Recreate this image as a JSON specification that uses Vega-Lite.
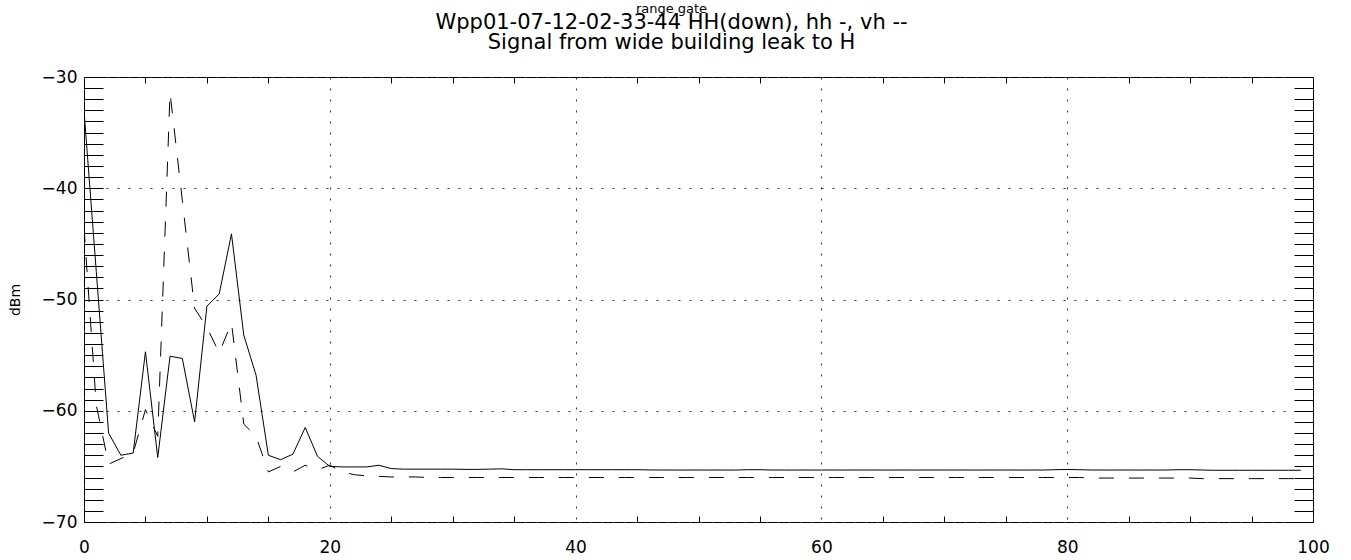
{
  "$schema": "https://vega.github.io/schema/vega-lite/v6.json",
  "width": 1229,
  "height": 445,
  "autosize": {"type": "none"},
  "padding": {"left": 84, "top": 77, "right": 38, "bottom": 38},
  "background": "white",
  "config": {
    "view": {"stroke": "black", "strokeWidth": 1},
    "font": "DejaVu Sans",
    "axis": {
      "labelFont": "DejaVu Sans",
      "labelColor": "black",
      "labelFontSize": 17,
      "titleFont": "DejaVu Sans",
      "titleColor": "black",
      "titleFontWeight": "normal",
      "tickColor": "black",
      "tickWidth": 1,
      "gridColor": "#333333",
      "gridDash": [2, 9],
      "gridWidth": 1,
      "gridOpacity": 1,
      "domain": false
    }
  },
  "title": {
    "text": "range gate",
    "subtitle": ["Wpp01-07-12-02-33-44 HH(down), hh -, vh --", "Signal from wide building leak to H"],
    "fontSize": 13,
    "fontWeight": "normal",
    "font": "DejaVu Sans",
    "color": "black",
    "subtitleFont": "DejaVu Sans",
    "subtitleFontSize": 21,
    "subtitleColor": "black",
    "subtitleLineHeight": 20,
    "subtitlePadding": -4,
    "anchor": "middle",
    "frame": "group",
    "dx": -27,
    "offset": 15
  },
  "data": {
    "values": [
      {"gate": 0, "s": "hh", "dBm": -33.0}, {"gate": 1, "s": "hh", "dBm": -47.5}, {"gate": 2, "s": "hh", "dBm": -62.0}, {"gate": 3, "s": "hh", "dBm": -64.0}, {"gate": 4, "s": "hh", "dBm": -63.8},
      {"gate": 5, "s": "hh", "dBm": -54.7}, {"gate": 6, "s": "hh", "dBm": -64.2}, {"gate": 7, "s": "hh", "dBm": -55.1}, {"gate": 8, "s": "hh", "dBm": -55.3}, {"gate": 9, "s": "hh", "dBm": -61.0},
      {"gate": 10, "s": "hh", "dBm": -50.6}, {"gate": 11, "s": "hh", "dBm": -49.5}, {"gate": 12, "s": "hh", "dBm": -44.1}, {"gate": 13, "s": "hh", "dBm": -53.2}, {"gate": 14, "s": "hh", "dBm": -56.8},
      {"gate": 15, "s": "hh", "dBm": -64.0}, {"gate": 16, "s": "hh", "dBm": -64.4}, {"gate": 17, "s": "hh", "dBm": -63.9}, {"gate": 18, "s": "hh", "dBm": -61.5}, {"gate": 19, "s": "hh", "dBm": -64.1},
      {"gate": 20, "s": "hh", "dBm": -65.0}, {"gate": 21, "s": "hh", "dBm": -65.05}, {"gate": 22, "s": "hh", "dBm": -65.05}, {"gate": 23, "s": "hh", "dBm": -65.05}, {"gate": 24, "s": "hh", "dBm": -64.9},
      {"gate": 25, "s": "hh", "dBm": -65.2}, {"gate": 26, "s": "hh", "dBm": -65.25}, {"gate": 27, "s": "hh", "dBm": -65.25}, {"gate": 28, "s": "hh", "dBm": -65.25}, {"gate": 29, "s": "hh", "dBm": -65.25},
      {"gate": 30, "s": "hh", "dBm": -65.25}, {"gate": 31, "s": "hh", "dBm": -65.27}, {"gate": 32, "s": "hh", "dBm": -65.27}, {"gate": 33, "s": "hh", "dBm": -65.25}, {"gate": 34, "s": "hh", "dBm": -65.22},
      {"gate": 35, "s": "hh", "dBm": -65.3}, {"gate": 36, "s": "hh", "dBm": -65.3}, {"gate": 37, "s": "hh", "dBm": -65.3}, {"gate": 38, "s": "hh", "dBm": -65.3}, {"gate": 39, "s": "hh", "dBm": -65.3},
      {"gate": 40, "s": "hh", "dBm": -65.3}, {"gate": 41, "s": "hh", "dBm": -65.3}, {"gate": 42, "s": "hh", "dBm": -65.3}, {"gate": 43, "s": "hh", "dBm": -65.3}, {"gate": 44, "s": "hh", "dBm": -65.3},
      {"gate": 45, "s": "hh", "dBm": -65.3}, {"gate": 46, "s": "hh", "dBm": -65.32}, {"gate": 47, "s": "hh", "dBm": -65.33}, {"gate": 48, "s": "hh", "dBm": -65.33}, {"gate": 49, "s": "hh", "dBm": -65.33},
      {"gate": 50, "s": "hh", "dBm": -65.33}, {"gate": 51, "s": "hh", "dBm": -65.33}, {"gate": 52, "s": "hh", "dBm": -65.33}, {"gate": 53, "s": "hh", "dBm": -65.33}, {"gate": 54, "s": "hh", "dBm": -65.3},
      {"gate": 55, "s": "hh", "dBm": -65.3}, {"gate": 56, "s": "hh", "dBm": -65.33}, {"gate": 57, "s": "hh", "dBm": -65.33}, {"gate": 58, "s": "hh", "dBm": -65.33}, {"gate": 59, "s": "hh", "dBm": -65.33},
      {"gate": 60, "s": "hh", "dBm": -65.33}, {"gate": 61, "s": "hh", "dBm": -65.33}, {"gate": 62, "s": "hh", "dBm": -65.33}, {"gate": 63, "s": "hh", "dBm": -65.33}, {"gate": 64, "s": "hh", "dBm": -65.33},
      {"gate": 65, "s": "hh", "dBm": -65.33}, {"gate": 66, "s": "hh", "dBm": -65.33}, {"gate": 67, "s": "hh", "dBm": -65.33}, {"gate": 68, "s": "hh", "dBm": -65.33}, {"gate": 69, "s": "hh", "dBm": -65.33},
      {"gate": 70, "s": "hh", "dBm": -65.33}, {"gate": 71, "s": "hh", "dBm": -65.33}, {"gate": 72, "s": "hh", "dBm": -65.33}, {"gate": 73, "s": "hh", "dBm": -65.33}, {"gate": 74, "s": "hh", "dBm": -65.33},
      {"gate": 75, "s": "hh", "dBm": -65.33}, {"gate": 76, "s": "hh", "dBm": -65.33}, {"gate": 77, "s": "hh", "dBm": -65.33}, {"gate": 78, "s": "hh", "dBm": -65.33}, {"gate": 79, "s": "hh", "dBm": -65.3},
      {"gate": 80, "s": "hh", "dBm": -65.28}, {"gate": 81, "s": "hh", "dBm": -65.3}, {"gate": 82, "s": "hh", "dBm": -65.33}, {"gate": 83, "s": "hh", "dBm": -65.33}, {"gate": 84, "s": "hh", "dBm": -65.33},
      {"gate": 85, "s": "hh", "dBm": -65.33}, {"gate": 86, "s": "hh", "dBm": -65.33}, {"gate": 87, "s": "hh", "dBm": -65.33}, {"gate": 88, "s": "hh", "dBm": -65.33}, {"gate": 89, "s": "hh", "dBm": -65.3},
      {"gate": 90, "s": "hh", "dBm": -65.3}, {"gate": 91, "s": "hh", "dBm": -65.33}, {"gate": 92, "s": "hh", "dBm": -65.35}, {"gate": 93, "s": "hh", "dBm": -65.35}, {"gate": 94, "s": "hh", "dBm": -65.35},
      {"gate": 95, "s": "hh", "dBm": -65.35}, {"gate": 96, "s": "hh", "dBm": -65.35}, {"gate": 97, "s": "hh", "dBm": -65.35}, {"gate": 98, "s": "hh", "dBm": -65.35}, {"gate": 99, "s": "hh", "dBm": -65.35},

      {"gate": 0, "s": "vh", "dBm": -43.5}, {"gate": 1, "s": "vh", "dBm": -59.5}, {"gate": 2, "s": "vh", "dBm": -64.8}, {"gate": 3, "s": "vh", "dBm": -64.3}, {"gate": 4, "s": "vh", "dBm": -63.8},
      {"gate": 5, "s": "vh", "dBm": -59.9}, {"gate": 6, "s": "vh", "dBm": -62.3}, {"gate": 7, "s": "vh", "dBm": -31.4}, {"gate": 8, "s": "vh", "dBm": -41.1}, {"gate": 9, "s": "vh", "dBm": -50.8},
      {"gate": 10, "s": "vh", "dBm": -52.5}, {"gate": 11, "s": "vh", "dBm": -54.8}, {"gate": 12, "s": "vh", "dBm": -52.1}, {"gate": 13, "s": "vh", "dBm": -61.2}, {"gate": 14, "s": "vh", "dBm": -62.3},
      {"gate": 15, "s": "vh", "dBm": -65.5}, {"gate": 16, "s": "vh", "dBm": -65.0}, {"gate": 17, "s": "vh", "dBm": -65.5}, {"gate": 18, "s": "vh", "dBm": -64.9}, {"gate": 19, "s": "vh", "dBm": -65.3},
      {"gate": 20, "s": "vh", "dBm": -64.9}, {"gate": 21, "s": "vh", "dBm": -65.5}, {"gate": 22, "s": "vh", "dBm": -65.75}, {"gate": 23, "s": "vh", "dBm": -65.85}, {"gate": 24, "s": "vh", "dBm": -65.9},
      {"gate": 25, "s": "vh", "dBm": -65.95}, {"gate": 26, "s": "vh", "dBm": -65.95}, {"gate": 27, "s": "vh", "dBm": -65.95}, {"gate": 28, "s": "vh", "dBm": -66.0}, {"gate": 29, "s": "vh", "dBm": -66.0},
      {"gate": 30, "s": "vh", "dBm": -66.0}, {"gate": 31, "s": "vh", "dBm": -66.0}, {"gate": 32, "s": "vh", "dBm": -66.0}, {"gate": 33, "s": "vh", "dBm": -66.0}, {"gate": 34, "s": "vh", "dBm": -66.0},
      {"gate": 35, "s": "vh", "dBm": -66.0}, {"gate": 36, "s": "vh", "dBm": -66.0}, {"gate": 37, "s": "vh", "dBm": -66.0}, {"gate": 38, "s": "vh", "dBm": -66.0}, {"gate": 39, "s": "vh", "dBm": -66.0},
      {"gate": 40, "s": "vh", "dBm": -66.0}, {"gate": 41, "s": "vh", "dBm": -66.0}, {"gate": 42, "s": "vh", "dBm": -66.0}, {"gate": 43, "s": "vh", "dBm": -66.0}, {"gate": 44, "s": "vh", "dBm": -66.0},
      {"gate": 45, "s": "vh", "dBm": -66.0}, {"gate": 46, "s": "vh", "dBm": -66.0}, {"gate": 47, "s": "vh", "dBm": -66.0}, {"gate": 48, "s": "vh", "dBm": -66.0}, {"gate": 49, "s": "vh", "dBm": -66.0},
      {"gate": 50, "s": "vh", "dBm": -66.0}, {"gate": 51, "s": "vh", "dBm": -66.0}, {"gate": 52, "s": "vh", "dBm": -66.0}, {"gate": 53, "s": "vh", "dBm": -66.0}, {"gate": 54, "s": "vh", "dBm": -66.0},
      {"gate": 55, "s": "vh", "dBm": -66.0}, {"gate": 56, "s": "vh", "dBm": -66.0}, {"gate": 57, "s": "vh", "dBm": -66.0}, {"gate": 58, "s": "vh", "dBm": -66.0}, {"gate": 59, "s": "vh", "dBm": -66.0},
      {"gate": 60, "s": "vh", "dBm": -66.0}, {"gate": 61, "s": "vh", "dBm": -66.0}, {"gate": 62, "s": "vh", "dBm": -66.0}, {"gate": 63, "s": "vh", "dBm": -66.0}, {"gate": 64, "s": "vh", "dBm": -66.0},
      {"gate": 65, "s": "vh", "dBm": -66.0}, {"gate": 66, "s": "vh", "dBm": -66.0}, {"gate": 67, "s": "vh", "dBm": -66.0}, {"gate": 68, "s": "vh", "dBm": -66.0}, {"gate": 69, "s": "vh", "dBm": -66.0},
      {"gate": 70, "s": "vh", "dBm": -66.0}, {"gate": 71, "s": "vh", "dBm": -66.0}, {"gate": 72, "s": "vh", "dBm": -66.0}, {"gate": 73, "s": "vh", "dBm": -66.0}, {"gate": 74, "s": "vh", "dBm": -66.0},
      {"gate": 75, "s": "vh", "dBm": -66.0}, {"gate": 76, "s": "vh", "dBm": -66.0}, {"gate": 77, "s": "vh", "dBm": -66.0}, {"gate": 78, "s": "vh", "dBm": -66.0}, {"gate": 79, "s": "vh", "dBm": -66.0},
      {"gate": 80, "s": "vh", "dBm": -66.0}, {"gate": 81, "s": "vh", "dBm": -66.0}, {"gate": 82, "s": "vh", "dBm": -66.05}, {"gate": 83, "s": "vh", "dBm": -66.05}, {"gate": 84, "s": "vh", "dBm": -66.05},
      {"gate": 85, "s": "vh", "dBm": -66.05}, {"gate": 86, "s": "vh", "dBm": -66.05}, {"gate": 87, "s": "vh", "dBm": -66.05}, {"gate": 88, "s": "vh", "dBm": -66.05}, {"gate": 89, "s": "vh", "dBm": -66.05},
      {"gate": 90, "s": "vh", "dBm": -66.05}, {"gate": 91, "s": "vh", "dBm": -66.1}, {"gate": 92, "s": "vh", "dBm": -66.1}, {"gate": 93, "s": "vh", "dBm": -66.1}, {"gate": 94, "s": "vh", "dBm": -66.1},
      {"gate": 95, "s": "vh", "dBm": -66.1}, {"gate": 96, "s": "vh", "dBm": -66.1}, {"gate": 97, "s": "vh", "dBm": -66.1}, {"gate": 98, "s": "vh", "dBm": -66.1}, {"gate": 99, "s": "vh", "dBm": -66.1}
    ]
  },
  "resolve": {"axis": {"x": "independent", "y": "independent"}},
  "layer": [
    {
      "transform": [{"filter": "datum.s === 'hh'"}],
      "mark": {"type": "line", "color": "black", "strokeWidth": 1, "clip": true},
      "encoding": {
        "x": {
          "field": "gate", "type": "quantitative",
          "scale": {"domain": [0, 100], "nice": false, "zero": false},
          "axis": {"orient": "bottom", "values": [0, 20, 40, 60, 80, 100], "format": "d", "grid": true, "ticks": false, "labelPadding": 17, "labelBaseline": "top", "title": null, "labelFlush": false}
        },
        "y": {
          "field": "dBm", "type": "quantitative",
          "scale": {"domain": [-70, -30], "nice": false, "zero": false},
          "axis": {"orient": "left", "values": [-70, -60, -50, -40, -30], "format": "d", "grid": true, "ticks": false, "labelPadding": 7, "title": "dBm", "titleFontSize": 14, "titlePadding": 19}
        }
      }
    },
    {
      "transform": [{"filter": "datum.s === 'vh'"}],
      "mark": {"type": "line", "color": "black", "strokeWidth": 1, "strokeDash": [15, 15], "clip": true},
      "encoding": {
        "x": {
          "field": "gate", "type": "quantitative",
          "axis": {"orient": "bottom", "values": [5, 10, 15, 25, 30, 35, 45, 50, 55, 65, 70, 75, 85, 90, 95], "labels": false, "grid": false, "ticks": true, "tickSize": -6, "title": null}
        },
        "y": {
          "field": "dBm", "type": "quantitative",
          "axis": {"orient": "left", "values": [-70, -69, -68, -67, -66, -65, -64, -63, -62, -61, -60, -59, -58, -57, -56, -55, -54, -53, -52, -51, -50, -49, -48, -47, -46, -45, -44, -43, -42, -41, -40, -39, -38, -37, -36, -35, -34, -33, -32, -31, -30], "labels": false, "grid": false, "ticks": true, "tickSize": -19, "title": null}
        }
      }
    },
    {
      "transform": [{"filter": "datum.s === 'hh'"}],
      "mark": {"type": "line", "color": "black", "strokeOpacity": 0},
      "encoding": {
        "x": {
          "field": "gate", "type": "quantitative",
          "axis": {"orient": "top", "values": [5, 10, 15, 25, 30, 35, 45, 50, 55, 65, 70, 75, 85, 90, 95], "labels": false, "grid": false, "ticks": true, "tickSize": -6, "title": null}
        },
        "y": {
          "field": "dBm", "type": "quantitative",
          "axis": {"orient": "right", "values": [-70, -69, -68, -67, -66, -65, -64, -63, -62, -61, -60, -59, -58, -57, -56, -55, -54, -53, -52, -51, -50, -49, -48, -47, -46, -45, -44, -43, -42, -41, -40, -39, -38, -37, -36, -35, -34, -33, -32, -31, -30], "labels": false, "grid": false, "ticks": true, "tickSize": -19, "title": null}
        }
      }
    }
  ]
}
